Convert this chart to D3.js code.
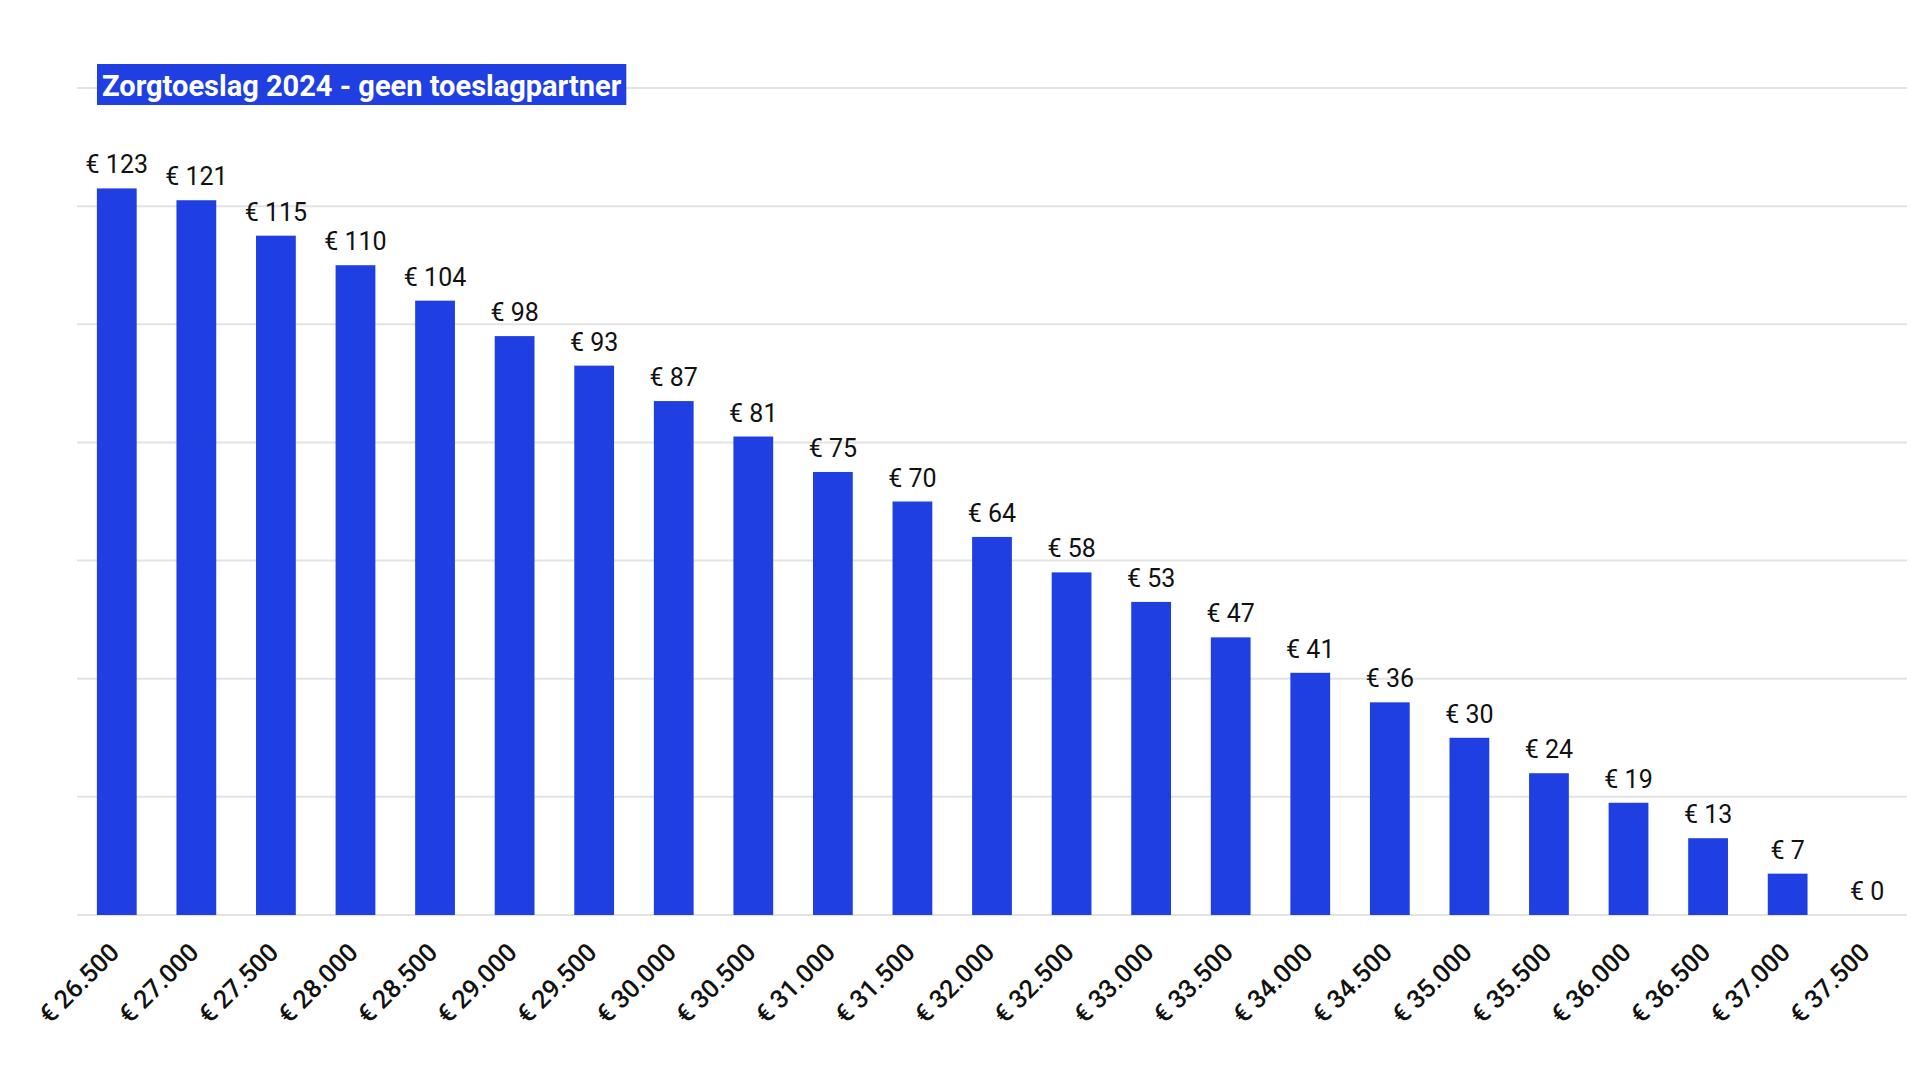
<!DOCTYPE html>
<html>
<head>
<meta charset="utf-8">
<script src="https://cdn.jsdelivr.net/npm/d3@7"></script>
<style>
  html, body { margin: 0; padding: 0; background: #ffffff; }
  svg { display: block; font-family: Roboto, "Noto Sans", sans-serif; }
</style>
</head>
<body>
<svg id="chart" width="1920" height="1080"></svg>
<script>
const title = "Zorgtoeslag 2024 - geen toeslagpartner";
const categories = ["€ 26.500","€ 27.000","€ 27.500","€ 28.000","€ 28.500","€ 29.000","€ 29.500","€ 30.000","€ 30.500","€ 31.000","€ 31.500","€ 32.000","€ 32.500","€ 33.000","€ 33.500","€ 34.000","€ 34.500","€ 35.000","€ 35.500","€ 36.000","€ 36.500","€ 37.000","€ 37.500"];
const values = [123,121,115,110,104,98,93,87,81,75,70,64,58,53,47,41,36,30,24,19,13,7,0];
const valueLabels = values.map(v => "€ " + v);
const gridTicks = [0,20,40,60,80,100,120,140];

const svg = d3.select("#chart");
const plotLeft = 77, plotRight = 1907, plotBottom = 915, plotTop = 88;

const x = d3.scaleBand().domain(categories).range([plotLeft, plotRight]).paddingInner(0.5).paddingOuter(0.25);
const y = d3.scaleLinear().domain([0, 140]).range([plotBottom, plotTop]);

// gridlines
svg.append("g").selectAll("line").data(gridTicks).join("line")
  .attr("x1", plotLeft).attr("x2", plotRight)
  .attr("y1", d => y(d)).attr("y2", d => y(d))
  .attr("stroke", "#e3e3e3").attr("stroke-width", 2);

// bars
svg.append("g").selectAll("rect").data(values).join("rect")
  .attr("x", (d, i) => x(categories[i]))
  .attr("width", x.bandwidth())
  .attr("y", d => y(d))
  .attr("height", d => y(0) - y(d))
  .attr("fill", "#1f3fe2");

// value labels
svg.append("g").selectAll("text").data(values).join("text")
  .attr("x", (d, i) => x(categories[i]) + x.bandwidth() / 2)
  .attr("y", d => y(d) - 15)
  .attr("text-anchor", "middle")
  .attr("font-size", 25)
  .attr("fill", "#111")
  .text((d, i) => valueLabels[i]);

// x axis labels (rotated)
const xAxis = d3.axisBottom(x).tickSize(0).tickPadding(0);
const gx = svg.append("g").attr("transform", `translate(0,${plotBottom})`).call(xAxis);
gx.select(".domain").remove();
gx.selectAll(".tick text")
  .attr("font-family", "Roboto, sans-serif")
  .attr("font-size", 25.5)
  .attr("font-weight", 500)
  .attr("fill", "#111")
  .attr("text-anchor", "end")
  .attr("dy", null)
  .attr("y", null)
  .attr("transform", "translate(4,39) rotate(-45)");

// title
const tg = svg.append("g");
const tText = tg.append("text")
  .attr("x", 102).attr("y", 95.5)
  .attr("font-size", 29).attr("font-weight", "bold")
  .attr("fill", "#ffffff")
  .text(title);
const tw = tText.node().getComputedTextLength();
tg.insert("rect", "text")
  .attr("x", 97).attr("y", 64)
  .attr("width", tw + 10).attr("height", 41)
  .attr("fill", "#1f3fe2");
</script>
</body>
</html>
